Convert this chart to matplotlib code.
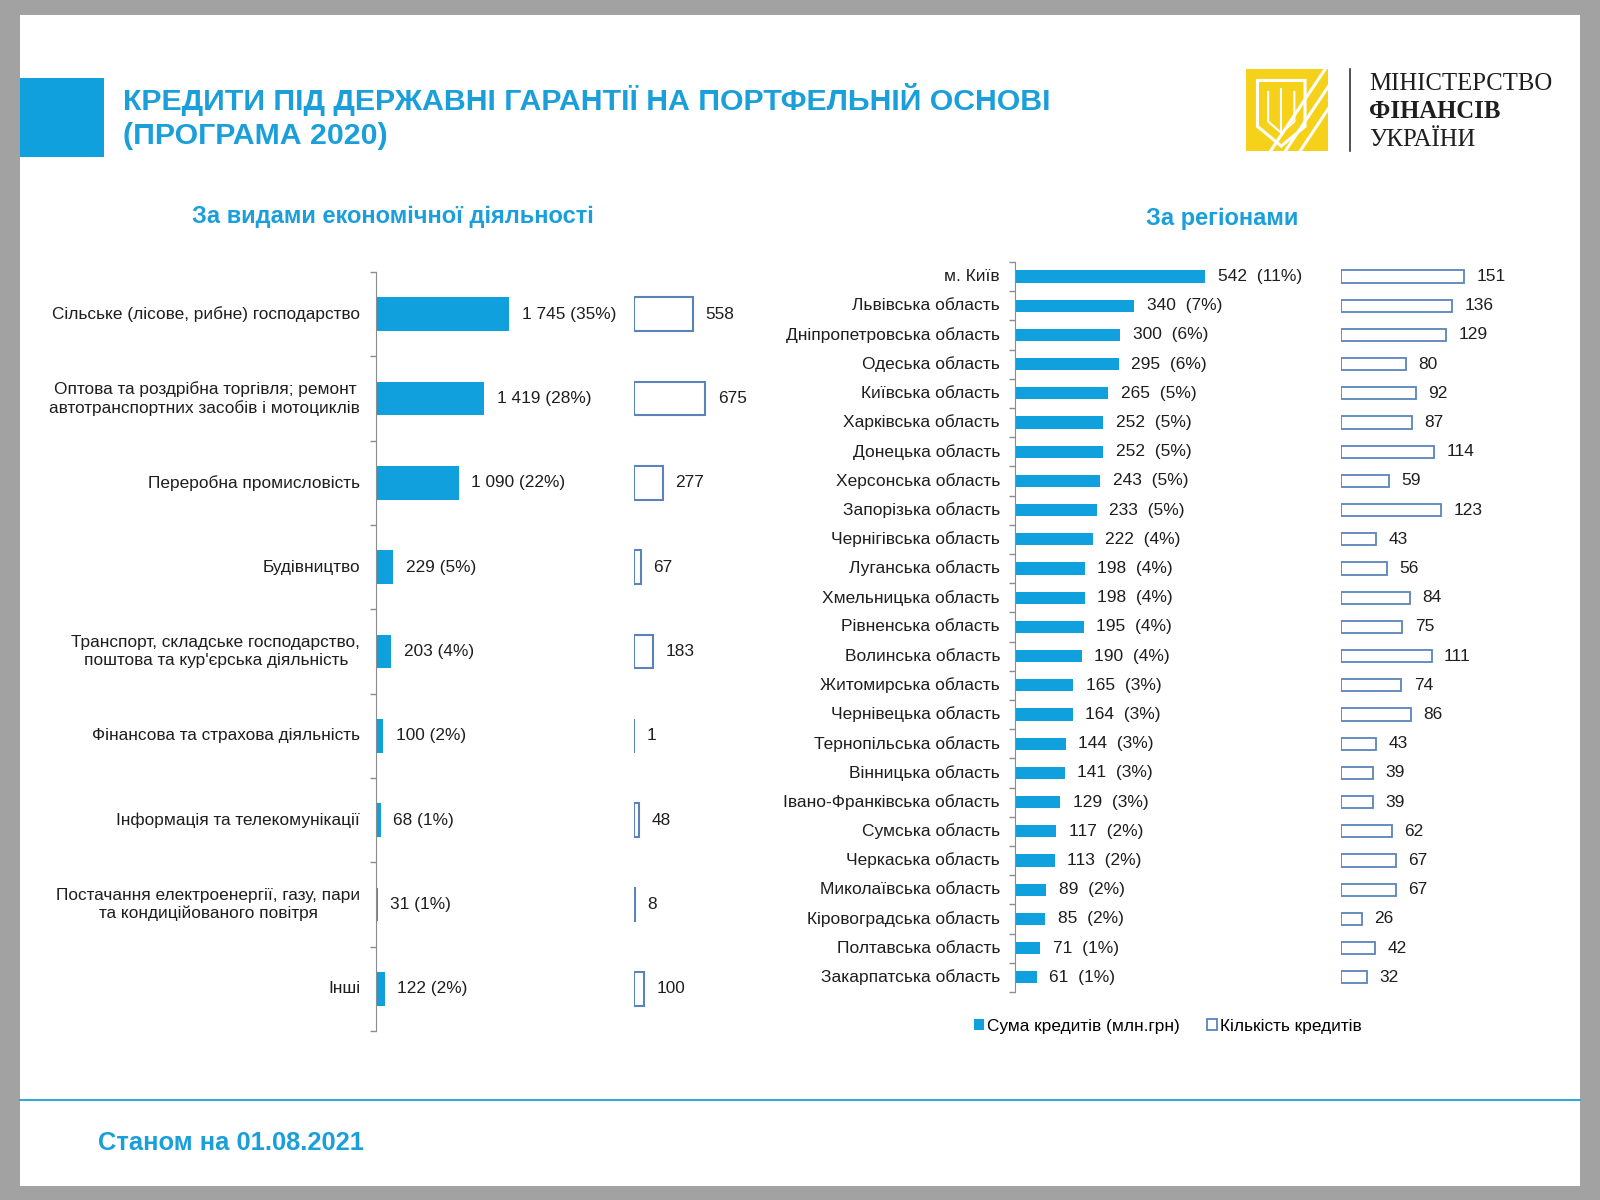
import matplotlib.pyplot as plt
from matplotlib.patches import Rectangle, Polygon

plt.rcParams["font.family"] = ["Liberation Sans", "DejaVu Sans"]

# Дані: види економічної діяльності
sectors = [
    "Сільське (лісове, рибне) господарство",
    "Оптова та роздрібна торгівля; ремонт\nавтотранспортних засобів і мотоциклів",
    "Переробна промисловість",
    "Будівництво",
    "Транспорт, складське господарство,\nпоштова та кур'єрська діяльність",
    "Фінансова та страхова діяльність",
    "Інформація та телекомунікації",
    "Постачання електроенергії, газу, пари\nта кондиційованого повітря",
    "Інші",
]
sector_sum = [1745, 1419, 1090, 229, 203, 100, 68, 31, 122]
sector_pct = [35, 28, 22, 5, 4, 2, 1, 1, 2]
sector_cnt = [558, 675, 277, 67, 183, 1, 48, 8, 100]

# Дані: регіони
regions = [
    "м. Київ", "Львівська область", "Дніпропетровська область", "Одеська область",
    "Київська область", "Харківська область", "Донецька область", "Херсонська область",
    "Запорізька область", "Чернігівська область", "Луганська область",
    "Хмельницька область", "Рівненська область", "Волинська область",
    "Житомирська область", "Чернівецька область", "Тернопільська область",
    "Вінницька область", "Івано-Франківська область", "Сумська область",
    "Черкаська область", "Миколаївська область", "Кіровоградська область",
    "Полтавська область", "Закарпатська область",
]
region_sum = [542, 340, 300, 295, 265, 252, 252, 243, 233, 222, 198, 198, 195,
              190, 165, 164, 144, 141, 129, 117, 113, 89, 85, 71, 61]
region_pct = [11, 7, 6, 6, 5, 5, 5, 5, 5, 4, 4, 4, 4, 4, 3, 3, 3, 3, 3, 2, 2, 2, 2, 1, 1]
region_cnt = [151, 136, 129, 80, 92, 87, 114, 59, 123, 43, 56, 84, 75, 111, 74,
              86, 43, 39, 39, 62, 67, 67, 26, 42, 32]

BLUE = "#0fa0dd"
TITLE = "#1b9fdb"
EDGE = "#5a83bb"
TXT = "#1e1e1e"
W, H = 1600, 1200

fig = plt.figure(figsize=(16, 12), dpi=100, facecolor="#a2a2a2")


def px_axes(x0, y0, x1, y1, z=1):
    ax = fig.add_axes([x0 / W, 1 - y1 / H, (x1 - x0) / W, (y1 - y0) / H], zorder=z)
    ax.patch.set_alpha(0)
    return ax


# Фон слайду
bg = px_axes(0, 0, W, H, z=0)
bg.set_xlim(0, W)
bg.set_ylim(H, 0)
bg.axis("off")
bg.add_patch(Rectangle((20, 15), 1560, 1171, facecolor="white", edgecolor="none"))
bg.add_patch(Rectangle((20, 78), 84, 79, facecolor=BLUE, edgecolor="none"))
bg.text(123, 99, "КРЕДИТИ ПІД ДЕРЖАВНІ ГАРАНТІЇ НА ПОРТФЕЛЬНІЙ ОСНОВІ",
        fontsize=21.8, fontweight="bold", color=TITLE, va="center")
bg.text(123, 136, "(ПРОГРАМА 2020)", fontsize=21.8, fontweight="bold",
        color=TITLE, va="center")
bg.plot([1350, 1350], [69, 151], color="#333333", lw=1.2)
bg.text(1369, 84, "МІНІСТЕРСТВО", fontsize=17.8, family="Liberation Serif",
        color=TXT, va="center")
bg.text(1369, 112, "ФІНАНСІВ", fontsize=17.8, family="Liberation Serif",
        fontweight="bold", color=TXT, va="center")
bg.text(1369, 140, "УКРАЇНИ", fontsize=17.8, family="Liberation Serif",
        color=TXT, va="center")
bg.text(393, 217, "За видами економічної діяльності", fontsize=17,
        fontweight="bold", color=TITLE, ha="center", va="center")
bg.text(1222, 219, "За регіонами", fontsize=17, fontweight="bold",
        color=TITLE, ha="center", va="center")
bg.plot([20, 1580], [1100, 1100], color="#3aa6d6", lw=1.5)
bg.text(98, 1143, "Станом на 01.08.2021", fontsize=18.4, fontweight="bold",
        color=TITLE, va="center")

# Логотип
logo = px_axes(1246, 69, 1328, 151, z=2)
logo.set_xlim(0, 1)
logo.set_ylim(0, 1)
logo.axis("off")
sq = Rectangle((0, 0), 1, 1, facecolor="#f6d11a", edgecolor="none")
logo.add_patch(sq)
for k in [0.5, 0.68, 0.86]:
    ln, = logo.plot([k - 0.6, k + 0.6], [-0.6, 0.6 + 0.6], color="white", lw=2.2)
    ln.set_clip_path(sq)
shield = Polygon([(0.14, 0.86), (0.72, 0.86), (0.72, 0.3), (0.43, 0.06), (0.14, 0.3)],
                 facecolor="#f6d11a", edgecolor="white", lw=2.2)
logo.add_patch(shield)
logo.plot([0.43, 0.43], [0.22, 0.76], color="white", lw=1.5)
logo.plot([0.27, 0.27, 0.43], [0.72, 0.36, 0.22], color="white", lw=1.5)
logo.plot([0.59, 0.59, 0.43], [0.72, 0.36, 0.22], color="white", lw=1.5)


def style_axes(ax, labels, pad, fs):
    n = len(labels)
    ax.set_yticks(range(n))
    ax.set_yticklabels(labels, fontsize=fs, color=TXT, ha="right", va="center",
                       multialignment="center")
    ax.tick_params(axis="y", which="major", length=0, pad=pad)
    ax.set_yticks([i - 0.5 for i in range(n + 1)], minor=True)
    ax.tick_params(axis="y", which="minor", length=4, color="#8c8c8c", width=1)
    ax.set_xticks([])
    for s in ["top", "right", "bottom"]:
        ax.spines[s].set_visible(False)
    ax.spines["left"].set_color("#8c8c8c")


def hide_axes(ax):
    ax.set_xticks([])
    ax.set_yticks([])
    for s in ax.spines.values():
        s.set_visible(False)


# Ліва діаграма
n1 = len(sectors)
ax1 = px_axes(375.5, 272, 625.5, 1031)
ax1.set_ylim(n1 - 0.5, -0.5)
ax1.set_xlim(0, 250 / 0.0766)
b1 = ax1.barh(range(n1), sector_sum, height=0.4, color=BLUE)
ax1.bar_label(b1, labels=[f"{v:,}".replace(",", " ") + f" ({p}%)"
                          for v, p in zip(sector_sum, sector_pct)],
              padding=9, fontsize=12.4, color=TXT)
style_axes(ax1, sectors, 11, 12.4)

ax2 = px_axes(633.7, 272, 783.7, 1031)
ax2.set_ylim(n1 - 0.5, -0.5)
ax2.set_xlim(0, 150 / 0.106)
b2 = ax2.barh(range(n1), sector_cnt, height=0.4, facecolor="white",
              edgecolor=EDGE, lw=1.5)
ax2.bar_label(b2, labels=[str(v) for v in sector_cnt], padding=9,
              fontsize=12.4, color=TXT)
hide_axes(ax2)

# Права діаграма
n2 = len(regions)
top2 = 276.5 - 0.5 * 29.2
bot2 = 276.5 + (n2 - 0.5) * 29.2
ax3 = px_axes(1015.3, top2, 1305.3, bot2)
ax3.set_ylim(n2 - 0.5, -0.5)
ax3.set_xlim(0, 290 / 0.350)
b3 = ax3.barh(range(n2), region_sum, height=0.42, color=BLUE)
ax3.bar_label(b3, labels=[f"{v}  ({p}%)" for v, p in zip(region_sum, region_pct)],
              padding=9, fontsize=12.5, color=TXT)
style_axes(ax3, regions, 11, 12.5)

ax4 = px_axes(1340.8, top2, 1510.8, bot2)
ax4.set_ylim(n2 - 0.5, -0.5)
ax4.set_xlim(0, 170 / 0.818)
b4 = ax4.barh(range(n2), region_cnt, height=0.42, facecolor="white",
              edgecolor=EDGE, lw=1.3)
ax4.bar_label(b4, labels=[str(v) for v in region_cnt], padding=9,
              fontsize=12.5, color=TXT)
hide_axes(ax4)

fig.legend([b3, b4], ["Сума кредитів (млн.грн)", "Кількість кредитів"],
           loc="center", bbox_to_anchor=(1168 / W, 1 - 1026 / H), ncol=2,
           frameon=False, fontsize=12.4, handlelength=0.55, handleheight=0.55,
           handletextpad=0.2, columnspacing=1.6)

fig.savefig("out.png", dpi=100, facecolor=fig.get_facecolor())
